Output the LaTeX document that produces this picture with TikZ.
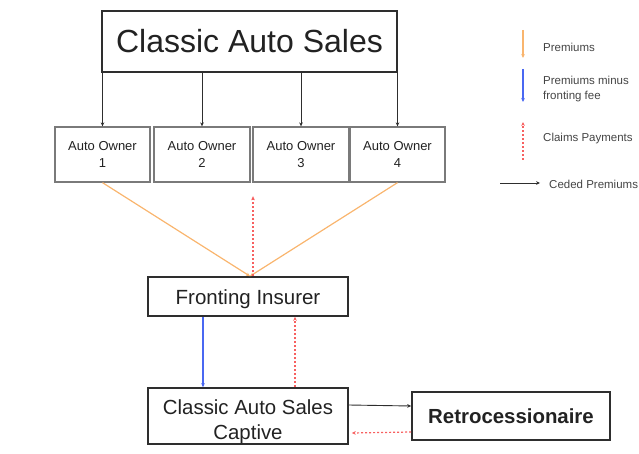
\documentclass[tikz,border=0pt]{standalone}
\usepackage{fontspec}
\setmainfont{Liberation Sans}
\usetikzlibrary{arrows.meta}
\definecolor{boxline}{HTML}{2E2E2E}
\definecolor{ownerline}{HTML}{7A7A7A}
\definecolor{premorange}{HTML}{F9B56E}
\definecolor{feeblue}{HTML}{4A68F2}
\definecolor{claimred}{HTML}{F76060}
\definecolor{txt}{HTML}{222222}
\definecolor{legendtxt}{HTML}{444444}
\tikzset{
  mainbox/.style={draw=boxline, line width=1.6pt, fill=white, inner sep=0pt, align=center, text=txt},
  ownerbox/.style={draw=ownerline, line width=1.3pt, fill=white, inner sep=0pt, align=center, text=txt,
    minimum height=55pt, font=\fontsize{13}{17}\selectfont},
  tip/.style={-{Stealth[length=4pt,width=3.6pt]}},
  feed/.style={tip, color=boxline, line width=0.8pt},
  premium/.style={tip, color=premorange, line width=1.2pt},
  netprem/.style={tip, color=feeblue, line width=1.15pt},
  claim/.style={tip, color=claimred, line width=1.2pt, dash pattern=on 2pt off 2pt},
  ceded/.style={tip, color=boxline, line width=0.9pt},
  legendtext/.style={anchor=west, inner sep=0pt, text=legendtxt, align=left, font=\fontsize{11.5}{15}\selectfont}
}
\begin{document}
\begin{tikzpicture}[x=1pt, y=-1pt]
\useasboundingbox (0,0) rectangle (639,454);

% company and its customers
\node[mainbox, minimum width=295pt, minimum height=61pt, font=\fontsize{32}{36}\selectfont] (top) at (249.5,41.5) {Classic Auto Sales};
\node[ownerbox, minimum width=95pt] (o1) at (102.5,154.5) {Auto Owner\\1};
\node[ownerbox, minimum width=96pt] (o2) at (202,154.5) {Auto Owner\\2};
\node[ownerbox, minimum width=96pt] (o3) at (301,154.5) {Auto Owner\\3};
\node[ownerbox, minimum width=95pt] (o4) at (397.5,154.5) {Auto Owner\\4};

\foreach \o in {o1,o2,o3,o4}
  \draw[feed] (\o.north |- top.south) -- (\o.north);

% insurance chain
\node[mainbox, minimum width=200pt, minimum height=39pt, font=\fontsize{20.5}{24}\selectfont] (fr) at (248,296.5) {\rule{0pt}{21pt}Fronting Insurer};
\node[mainbox, minimum width=200pt, minimum height=56pt, font=\fontsize{20.4}{25}\selectfont] (cap) at (248,416) {\rule{0pt}{26pt}Classic Auto Sales\\Captive};
\node[mainbox, minimum width=198pt, minimum height=48pt, font=\bfseries\fontsize{20.4}{24}\selectfont] (retro) at (511,416) {Retrocessionaire};

\draw[premium] (o1.south) -- ([xshift=2pt]fr.north);
\draw[premium] (o4.south) -- ([xshift=2pt]fr.north);
\coordinate (clmtop) at ([xshift=5pt, yshift=80pt]fr.north);
\draw[claim] ([xshift=5pt]fr.north) -- (clmtop);

\draw[netprem] ([xshift=-45pt]fr.south) -- ([xshift=-45pt]cap.north);
\draw[claim] ([xshift=47pt]cap.north) -- ([xshift=47pt]fr.south);

\draw[ceded] ([yshift=11pt]cap.east) -- ([yshift=10pt]retro.west);
\draw[claim] ([yshift=-16pt]retro.west) -- ([yshift=-17pt, xshift=3pt]cap.east);

% legend
\coordinate (l1a) at (523,30);  \coordinate (l1b) at (523,58);
\coordinate (l2a) at (523,69);  \coordinate (l2b) at (523,102);
\coordinate (l3a) at (523,160); \coordinate (l3b) at (523,122);
\coordinate (l4a) at (500,183); \coordinate (l4b) at (540,183);
\draw[premium] (l1a) -- (l1b);
\draw[netprem] (l2a) -- (l2b);
\draw[claim] (l3a) -- (l3b);
\draw[ceded] (l4a) -- (l4b);
\node[legendtext] (t1) at (543,47) {Premiums};
\node[legendtext] (t2) at (543,89) {Premiums minus\\fronting fee};
\node[legendtext] (t3) at (543,139) {Claims Payments};
\node[legendtext] (t4) at (549,184) {Ceded Premiums};
\end{tikzpicture}
\end{document}
